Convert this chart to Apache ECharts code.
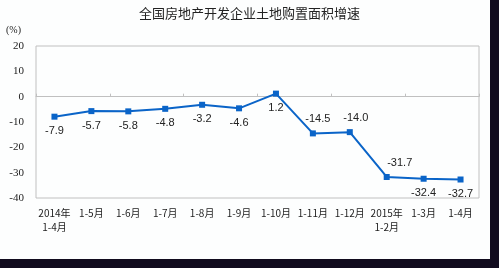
<!DOCTYPE html>
<html><head><meta charset="utf-8">
<script src="https://cdn.jsdelivr.net/npm/echarts@6/dist/echarts.min.js"></script>
<style>html,body{margin:0;padding:0;background:#fdfefe;}#c{width:499px;height:268px;}</style>
</head><body><div id="c"></div>
<script>
var categories = ['2014年\n1-4月','1-5月','1-6月','1-7月','1-8月','1-9月','1-10月','1-11月','1-12月','2015年\n1-2月','1-3月','1-4月'];
var values = [-7.9,-5.7,-5.8,-4.8,-3.2,-4.6,1.2,-14.5,-14.0,-31.7,-32.4,-32.7];
var labelPos = ['bottom','bottom','bottom','bottom','bottom','bottom','bottom','top','top','top','bottom','bottom'];
var labelShift = [0,0,0,0,0,0,0,5,6,13,0,0];
var yTicks = [-40,-30,-20,-10,0,10,20];

var chart = echarts.init(document.getElementById('c'));
chart.setOption({
  backgroundColor: '#fdfefe',
  animation: false,
  grid: {left: 36, right: 20, top: 46, bottom: 70, show: true, borderColor: '#c0c0c0', borderWidth: 1},
  graphic: [
    {type:'text', left: 139, top: 7, style:{text:'全国房地产开发企业土地购置面积增速', font:'13px "Noto Sans CJK SC"', fill:'#222'}},
    {type:'text', left: 6, top: 25, style:{text:'(%)', font:'10px "Liberation Serif"', fill:'#222'}},
    {type:'rect', shape:{x:490,y:0,width:9,height:268}, style:{fill:'#110b1e'}},
    {type:'rect', shape:{x:0,y:259,width:499,height:9}, style:{fill:'#110b1e'}}
  ],
  xAxis: [{
    type: 'category', data: categories, position: 'bottom',
    axisLine: {show: false, onZero: false}, axisTick: {show: false},
    axisLabel: {interval: 0, color: '#222', fontSize: 10, fontFamily: '"Noto Sans CJK SC"', margin: 8, lineHeight: 14}
  },{
    type: 'category', data: categories, position: 'bottom',
    axisLine: {show: true, onZero: true, lineStyle: {color: '#c0c0c0'}},
    axisTick: {show: true, inside: true, length: 3, lineStyle: {color: '#c0c0c0'}},
    axisLabel: {show: false}
  }],
  yAxis: {
    type: 'value', min: -40, max: 20, interval: 10,
    axisLine: {show: false}, axisTick: {show: false}, splitLine: {show: false},
    axisLabel: {color: '#222', fontSize: 11, fontFamily: '"Liberation Serif"', margin: 12}
  },
  series: [{
    type: 'line', data: values.map(function(v,i){return {value: v, label: {position: labelPos[i], offset: [labelShift[i], 0]}};}),
    symbol: 'rect', symbolSize: 6,
    lineStyle: {color: '#0a64c8', width: 2},
    itemStyle: {color: '#0a64c8'},
    label: {show: true, color: '#222', fontSize: 11, fontFamily: '"Liberation Sans"', distance: 6,
      formatter: function(p){return p.value.toFixed(1);}}
  }]
});
</script></body></html>
